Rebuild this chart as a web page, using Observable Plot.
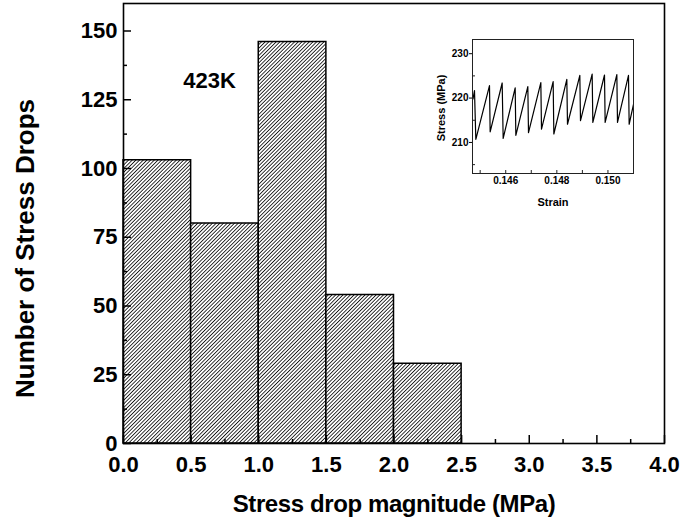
<!DOCTYPE html>
<html><head><meta charset="utf-8">
<script src="https://cdn.jsdelivr.net/npm/d3@7"></script>
<script src="https://cdn.jsdelivr.net/npm/@observablehq/plot@0.6"></script>
<style>
html,body{margin:0;padding:0;background:#fff;}
#chart{position:relative;width:680px;height:522px;overflow:hidden;}
#inset{position:absolute;left:428px;top:30px;}
</style></head><body>
<div id="chart"></div>
<script>
// ---- main histogram data ----
const binLower = [0.0, 0.5, 1.0, 1.5, 2.0];
const binUpper = [0.5, 1.0, 1.5, 2.0, 2.5];
const dropCounts = [103, 80, 146, 54, 29];
const xMajorTicks = [0, 0.5, 1.0, 1.5, 2.0, 2.5, 3.0, 3.5, 4.0];
const xMinorTicks = [0.25, 0.75, 1.25, 1.75, 2.25, 2.75, 3.25, 3.75];
const yMajorTicks = [0, 25, 50, 75, 100, 125, 150];
const yMinorTicks = [12.5, 37.5, 62.5, 87.5, 112.5, 137.5];
const tempLabel = "423K";
const xTitle = "Stress drop magnitude (MPa)";
const yTitle = "Number of Stress Drops";

// ---- inset stress-strain data ----
const insetStrain = [0.14472, 0.144778, 0.14483, 0.145365, 0.145391, 0.145861, 0.1459, 0.14637, 0.146396, 0.146865, 0.146891, 0.147374, 0.1474, 0.147856, 0.147883, 0.148391, 0.148417, 0.1489, 0.148926, 0.149382, 0.149409, 0.149865, 0.149891, 0.150348, 0.150374, 0.150804, 0.15083, 0.151];
const insetStress = [219.8, 221.7, 210.7, 222.8, 212.4, 223.4, 210.9, 222.3, 211.6, 222.6, 212.2, 223.5, 213.0, 223.7, 211.9, 224.2, 214.1, 225.1, 214.9, 225.4, 214.5, 225.2, 214.5, 225.3, 214.5, 225.1, 214.1, 218.6];
const insetXLabels = [0.146, 0.148, 0.150];
const insetXTicks = [0.145, 0.146, 0.147, 0.148, 0.149, 0.150, 0.151];
const insetYLabels = [210, 220, 230];
const insetYMinor = [205, 215, 225];
const insetXTitle = "Strain";
const insetYTitle = "Stress (MPa)";

const font = "'Liberation Sans', Arial, Helvetica, sans-serif";

const W = 680, H = 522, mL = 123, mR = 16, mT = 3, mB = 79;
const innerW = W - mL - mR, innerH = H - mT - mB;
const bins = binLower.map((x1, i) => ({x1, x2: binUpper[i], count: dropCounts[i]}));

const main = Plot.plot({
  width: W, height: H,
  marginLeft: mL, marginRight: mR, marginTop: mT, marginBottom: mB,
  style: {fontFamily: font, fontWeight: "bold", background: "white", color: "black"},
  x: {domain: [0, 4]},
  y: {domain: [0, 160]},
  marks: [
    Plot.rectY(bins, {x1: "x1", x2: "x2", y: "count", inset: 0, fill: "url(#hatch)", stroke: "black", strokeWidth: 1.5}),
    Plot.tickX(xMajorTicks, {x: d => d, insetTop: innerH - 8, stroke: "black", strokeWidth: 1.5}),
    Plot.tickX(xMinorTicks, {x: d => d, insetTop: innerH - 4, stroke: "black", strokeWidth: 1.5}),
    Plot.tickY(yMajorTicks, {y: d => d, insetRight: innerW - 8, stroke: "black", strokeWidth: 1.5}),
    Plot.tickY(yMinorTicks, {y: d => d, insetRight: innerW - 4, stroke: "black", strokeWidth: 1.5}),
    Plot.axisX({ticks: xMajorTicks, tickSize: 0, tickPadding: 13, tickFormat: d => d.toFixed(1), fontSize: 22, label: null}),
    Plot.axisY({ticks: yMajorTicks, tickSize: 0, tickPadding: 6, tickFormat: d => String(d), fontSize: 22, label: null}),
    Plot.frame({stroke: "black", strokeWidth: 1.6}),
    Plot.text([tempLabel], {frameAnchor: "top-left", textAnchor: "middle", lineAnchor: "middle", dx: 86, dy: 77, fontSize: 22}),
    Plot.text([xTitle], {frameAnchor: "bottom", textAnchor: "middle", lineAnchor: "middle", dy: 61, fontSize: 24}),
    Plot.text([yTitle], {frameAnchor: "left", textAnchor: "middle", lineAnchor: "middle", rotate: -90, dx: -98, dy: 25, fontSize: 26})
  ]
});

// hatch pattern
const msvg = d3.select(main);
const defs = msvg.insert("defs", ":first-child");
const pat = defs.append("pattern").attr("id", "hatch")
  .attr("patternUnits", "userSpaceOnUse").attr("width", 2.6).attr("height", 10)
  .attr("patternTransform", "rotate(45)");
pat.append("rect").attr("width", 2.6).attr("height", 10).attr("fill", "white");
pat.append("line").attr("x1", 1.3).attr("y1", 0).attr("x2", 1.3).attr("y2", 10)
  .attr("stroke", "black").attr("stroke-width", 0.85);

// letter spacing tweak for x title
msvg.selectAll("text").filter(function() { return this.textContent === xTitle; })
  .attr("letter-spacing", "-0.4px");

document.getElementById("chart").appendChild(main);

// ---- inset ----
const iW = 210, iH = 185, imL = 44, imR = 5, imT = 9, imB = 42;
const iInnerW = iW - imL - imR, iInnerH = iH - imT - imB;
const curve = insetStrain.map((s, i) => ({s, v: insetStress[i]}));
const inset = Plot.plot({
  width: iW, height: iH,
  marginLeft: imL, marginRight: imR, marginTop: imT, marginBottom: imB,
  style: {fontFamily: font, fontWeight: "bold", background: "transparent", color: "black"},
  x: {domain: [0.1447, 0.1510]},
  y: {domain: [203, 233.2]},
  marks: [
    Plot.line(curve, {x: "s", y: "v", stroke: "black", strokeWidth: 1.2, clip: true}),
    Plot.tickX(insetXTicks, {x: d => d, insetTop: iInnerH - 3, stroke: "#222", strokeWidth: 1}),
    Plot.tickY(insetYMinor, {y: d => d, insetRight: iInnerW - 3, stroke: "#222", strokeWidth: 1}),
    Plot.axisX({ticks: insetXLabels, tickSize: 0, tickPadding: 3, tickFormat: d3.format(".3f"), fontSize: 10, label: null}),
    Plot.axisY({ticks: insetYLabels, tickSize: 3, tickPadding: 1, fontSize: 10, label: null}),
    Plot.frame({stroke: "#222", strokeWidth: 1}),
    Plot.text([insetXTitle], {frameAnchor: "bottom", textAnchor: "middle", lineAnchor: "middle", dy: 28.6, fontSize: 11}),
    Plot.text([insetYTitle], {frameAnchor: "left", textAnchor: "middle", lineAnchor: "middle", rotate: -90, dx: -31, dy: 1.5, fontSize: 11})
  ]
});
inset.id = "inset";
document.getElementById("chart").appendChild(inset);
</script>
</body></html>
